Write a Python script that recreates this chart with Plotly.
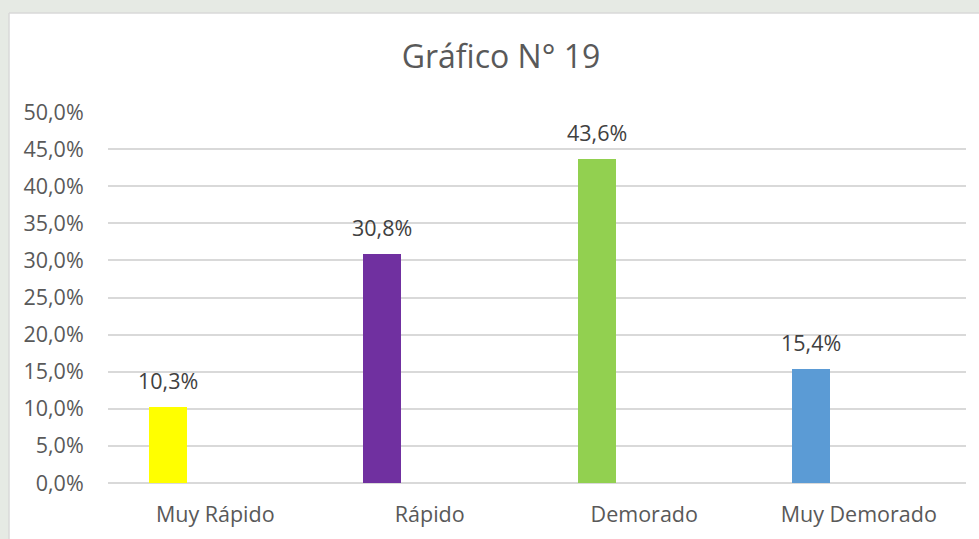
import plotly.graph_objects as go

categories = ["Muy Rápido", "Rápido", "Demorado", "Muy Demorado"]
values = [0.103, 0.308, 0.436, 0.154]
colors = ["#FFFF00", "#7030A0", "#92D050", "#5B9BD5"]
title_text = "Gráfico N° 19"

W, H = 979, 539
ML, MR, MT, MB = 108, 13, 112, 56
PW, PH = W - ML - MR, H - MT - MB

def px_x(p):
    return (p - ML) / PW

def px_y(p):
    return (H - MB - p) / PH

BAR_W = 0.177
BAR_OFF = -0.31
FONT = "Open Sans, Segoe UI, Calibri, sans-serif"
TXT = "#595959"
FS = 21.5

fig = go.Figure()
fig.add_trace(go.Bar(
    x=categories, y=values,
    marker=dict(color=colors, line=dict(width=0)),
    width=BAR_W, offset=BAR_OFF,
    hoverinfo="skip", showlegend=False,
))

for i, v in enumerate(values):
    fig.add_annotation(
        x=i + BAR_OFF + BAR_W / 2, y=v, xref="x", yref="y",
        text=f"{v*100:.1f}%".replace(".", ","),
        showarrow=False, yanchor="bottom", yshift=10,
        font=dict(family=FONT, size=FS, color="#404040"),
    )

# watermark strip and chart border
fig.add_shape(type="rect", xref="paper", yref="paper",
              x0=px_x(0), x1=px_x(W), y0=px_y(13), y1=px_y(0),
              fillcolor="#e6eae4", line=dict(width=0), layer="below")
fig.add_shape(type="rect", xref="paper", yref="paper",
              x0=px_x(0), x1=px_x(9), y0=px_y(H), y1=px_y(13),
              fillcolor="#e6eae4", line=dict(width=0), layer="below")
fig.add_shape(type="line", xref="paper", yref="paper",
              x0=px_x(9), x1=px_x(W), y0=px_y(13), y1=px_y(13),
              line=dict(color="#d9d9d9", width=1.5))
fig.add_shape(type="line", xref="paper", yref="paper",
              x0=px_x(9), x1=px_x(9), y0=px_y(13), y1=px_y(H),
              line=dict(color="#d9d9d9", width=1.5))

fig.update_layout(
    width=W, height=H,
    margin=dict(l=ML, r=MR, t=MT, b=MB),
    paper_bgcolor="white", plot_bgcolor="white",
    separators=",.",
    title=dict(text=title_text, x=(501) / W, xanchor="center",
               y=1 - 57 / H, yanchor="middle",
               font=dict(family=FONT, size=32, color=TXT)),
    xaxis=dict(
        type="category", showgrid=False, showline=False, zeroline=False,
        ticks="outside", ticklen=12, tickcolor="rgba(0,0,0,0)",
        tickfont=dict(family=FONT, size=FS, color=TXT),
        range=[-0.5, 3.5],
    ),
    yaxis=dict(
        range=[0, 0.5], dtick=0.05, tick0=0, tickformat=".1%",
        showgrid=True, gridcolor="#d9d9d9", gridwidth=1.5,
        zeroline=True, zerolinecolor="#d9d9d9", zerolinewidth=1.5,
        showline=False,
        ticks="outside", ticklen=19, tickcolor="rgba(0,0,0,0)",
        tickfont=dict(family=FONT, size=FS, color=TXT),
    ),
    bargap=0,
)

fig.write_html("out.html")
